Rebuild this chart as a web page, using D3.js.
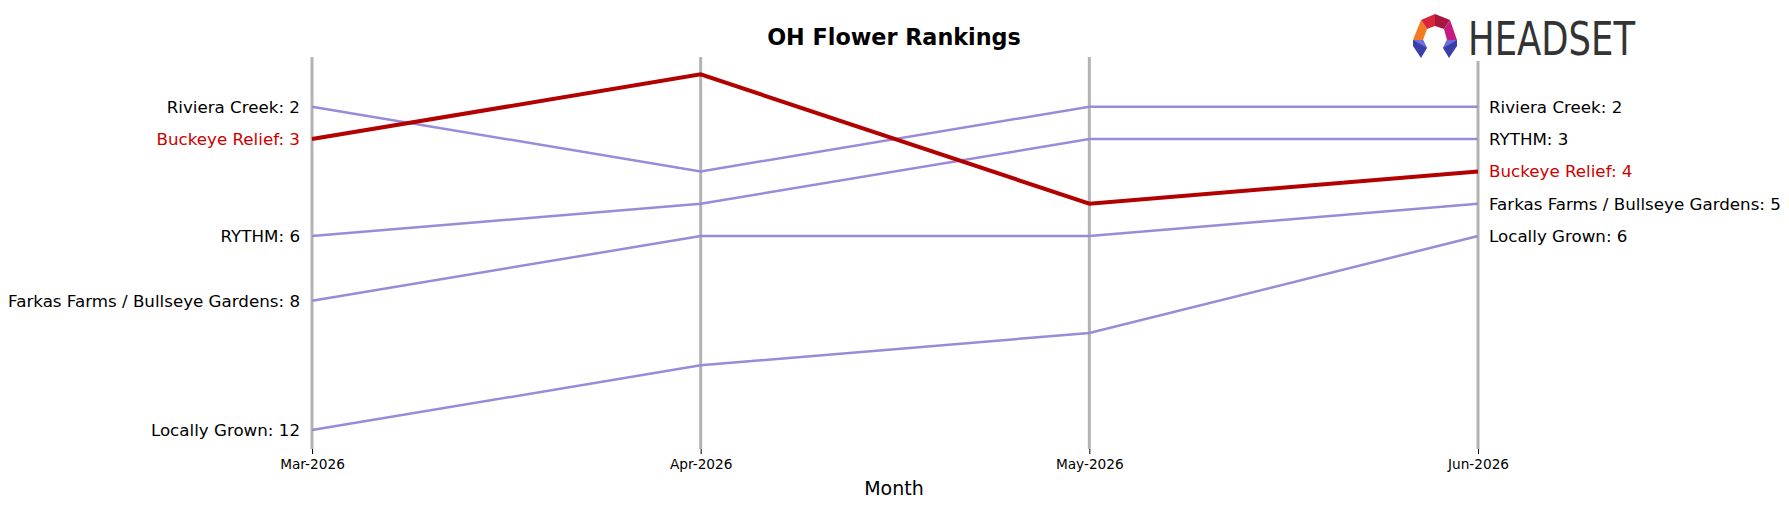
<!DOCTYPE html>
<html><head><meta charset="utf-8">
<script src="https://cdn.jsdelivr.net/npm/d3@7"></script>
<style>body{margin:0;background:#fff}svg{display:block;font-family:"DejaVu Sans",sans-serif}</style>
</head><body><svg id="c" width="1789" height="507"></svg>
<script>
const months = ["Mar-2026","Apr-2026","May-2026","Jun-2026"];
const brands = ["Riviera Creek","Buckeye Relief","RYTHM","Farkas Farms / Bullseye Gardens","Locally Grown"];
const rivieraCreek = [2,4,2,2];
const buckeyeRelief = [3,1,5,4];
const rythm = [6,5,3,3];
const farkasFarms = [8,6,6,5];
const locallyGrown = [12,10,9,6];
const highlight = "Buckeye Relief";
const seriesValues = [rivieraCreek,buckeyeRelief,rythm,farkasFarms,locallyGrown];

const svg = d3.select("#c");
const x = d3.scalePoint().domain(months).range([312,1478]);
const y = d3.scaleLinear().domain([1,12]).range([74.4,430]);

// vertical grid lines
svg.append("g").selectAll("line").data(months).join("line")
  .attr("x1",d=>x(d)).attr("x2",d=>x(d)).attr("y1",57).attr("y2",449)
  .attr("stroke","#b3b3b3").attr("stroke-width",3);

// x axis ticks
const xAxis = d3.axisBottom(x).tickSize(5).tickPadding(5);
const gx = svg.append("g").attr("transform","translate(0,449)").call(xAxis);
gx.select(".domain").remove();
gx.selectAll("text").attr("font-size",13.7).attr("font-family","DejaVu Sans").attr("fill","#000");
gx.selectAll("line").attr("stroke","#000");

const line = d3.line().x((d,i)=>x(months[i])).y(d=>y(d));
const data = brands.map((b,i)=>({name:b,vals:seriesValues[i]}));
const order = data.filter(d=>d.name!==highlight).concat(data.filter(d=>d.name===highlight));
svg.append("g").selectAll("path").data(order).join("path")
  .attr("d",d=>line(d.vals)).attr("fill","none")
  .attr("stroke",d=>d.name===highlight?"#b30000":"#9b8ad8")
  .attr("stroke-width",d=>d.name===highlight?4:2.5);

// labels
svg.append("g").selectAll("text").data(data).join("text")
  .attr("x",x(months[0])-12).attr("y",d=>y(d.vals[0])).attr("dy","0.35em")
  .attr("text-anchor","end").attr("font-size",16.7)
  .attr("fill",d=>d.name===highlight?"#cc0000":"#000")
  .text(d=>`${d.name}: ${d.vals[0]}`);
svg.append("g").selectAll("text").data(data).join("text")
  .attr("x",x(months[3])+11).attr("y",d=>y(d.vals[3])).attr("dy","0.35em")
  .attr("text-anchor","start").attr("font-size",16.7)
  .attr("fill",d=>d.name===highlight?"#cc0000":"#000")
  .text(d=>`${d.name}: ${d.vals[3]}`);

// title
svg.append("text").attr("x",894).attr("y",37).attr("dy","0.35em").attr("text-anchor","middle")
  .attr("font-size",22.3).attr("font-weight","bold").text("OH Flower Rankings");
svg.append("text").attr("x",894).attr("y",488).attr("dy","0.35em").attr("text-anchor","middle")
  .attr("font-size",19).text("Month");

// logo
const lg = svg.append("g");
lg.append("rect").attr("x",1405).attr("y",8).attr("width",240).attr("height",53).attr("fill","#fff");
const polys = [
  {p:[[1421,20],[1435,14],[1435,26],[1427,29]],c:"#d8263a"},
  {p:[[1435,14],[1450,20],[1444,29],[1435,26]],c:"#a8153f"},
  {p:[[1421,20],[1427,29],[1423,40],[1413,40]],c:"#f27b22"},
  {p:[[1450,20],[1457,40],[1447,40],[1444,29]],c:"#c51a7e"},
  {p:[[1413,40],[1423,40],[1427,48],[1421,58],[1413,46]],c:"#3a3fa8"},
  {p:[[1447,40],[1457,40],[1457,46],[1449,58],[1443,48]],c:"#3a3fa8"},
  {p:[[1413,40],[1423,40],[1427,48]],c:"#6a6ee0"},
  {p:[[1447,40],[1457,40],[1443,48]],c:"#6a6ee0"}
];
lg.selectAll("polygon").data(polys).join("polygon")
  .attr("points",d=>d.p.map(q=>q.join(",")).join(" ")).attr("fill",d=>d.c);
lg.append("text").attr("x",1468).attr("y",55).attr("font-family","'Liberation Sans Narrow','DejaVu Sans Condensed',sans-serif")
  .attr("font-size",46).attr("fill","#333").attr("textLength",167).attr("lengthAdjust","spacingAndGlyphs").text("HEADSET");
</script></body></html>
